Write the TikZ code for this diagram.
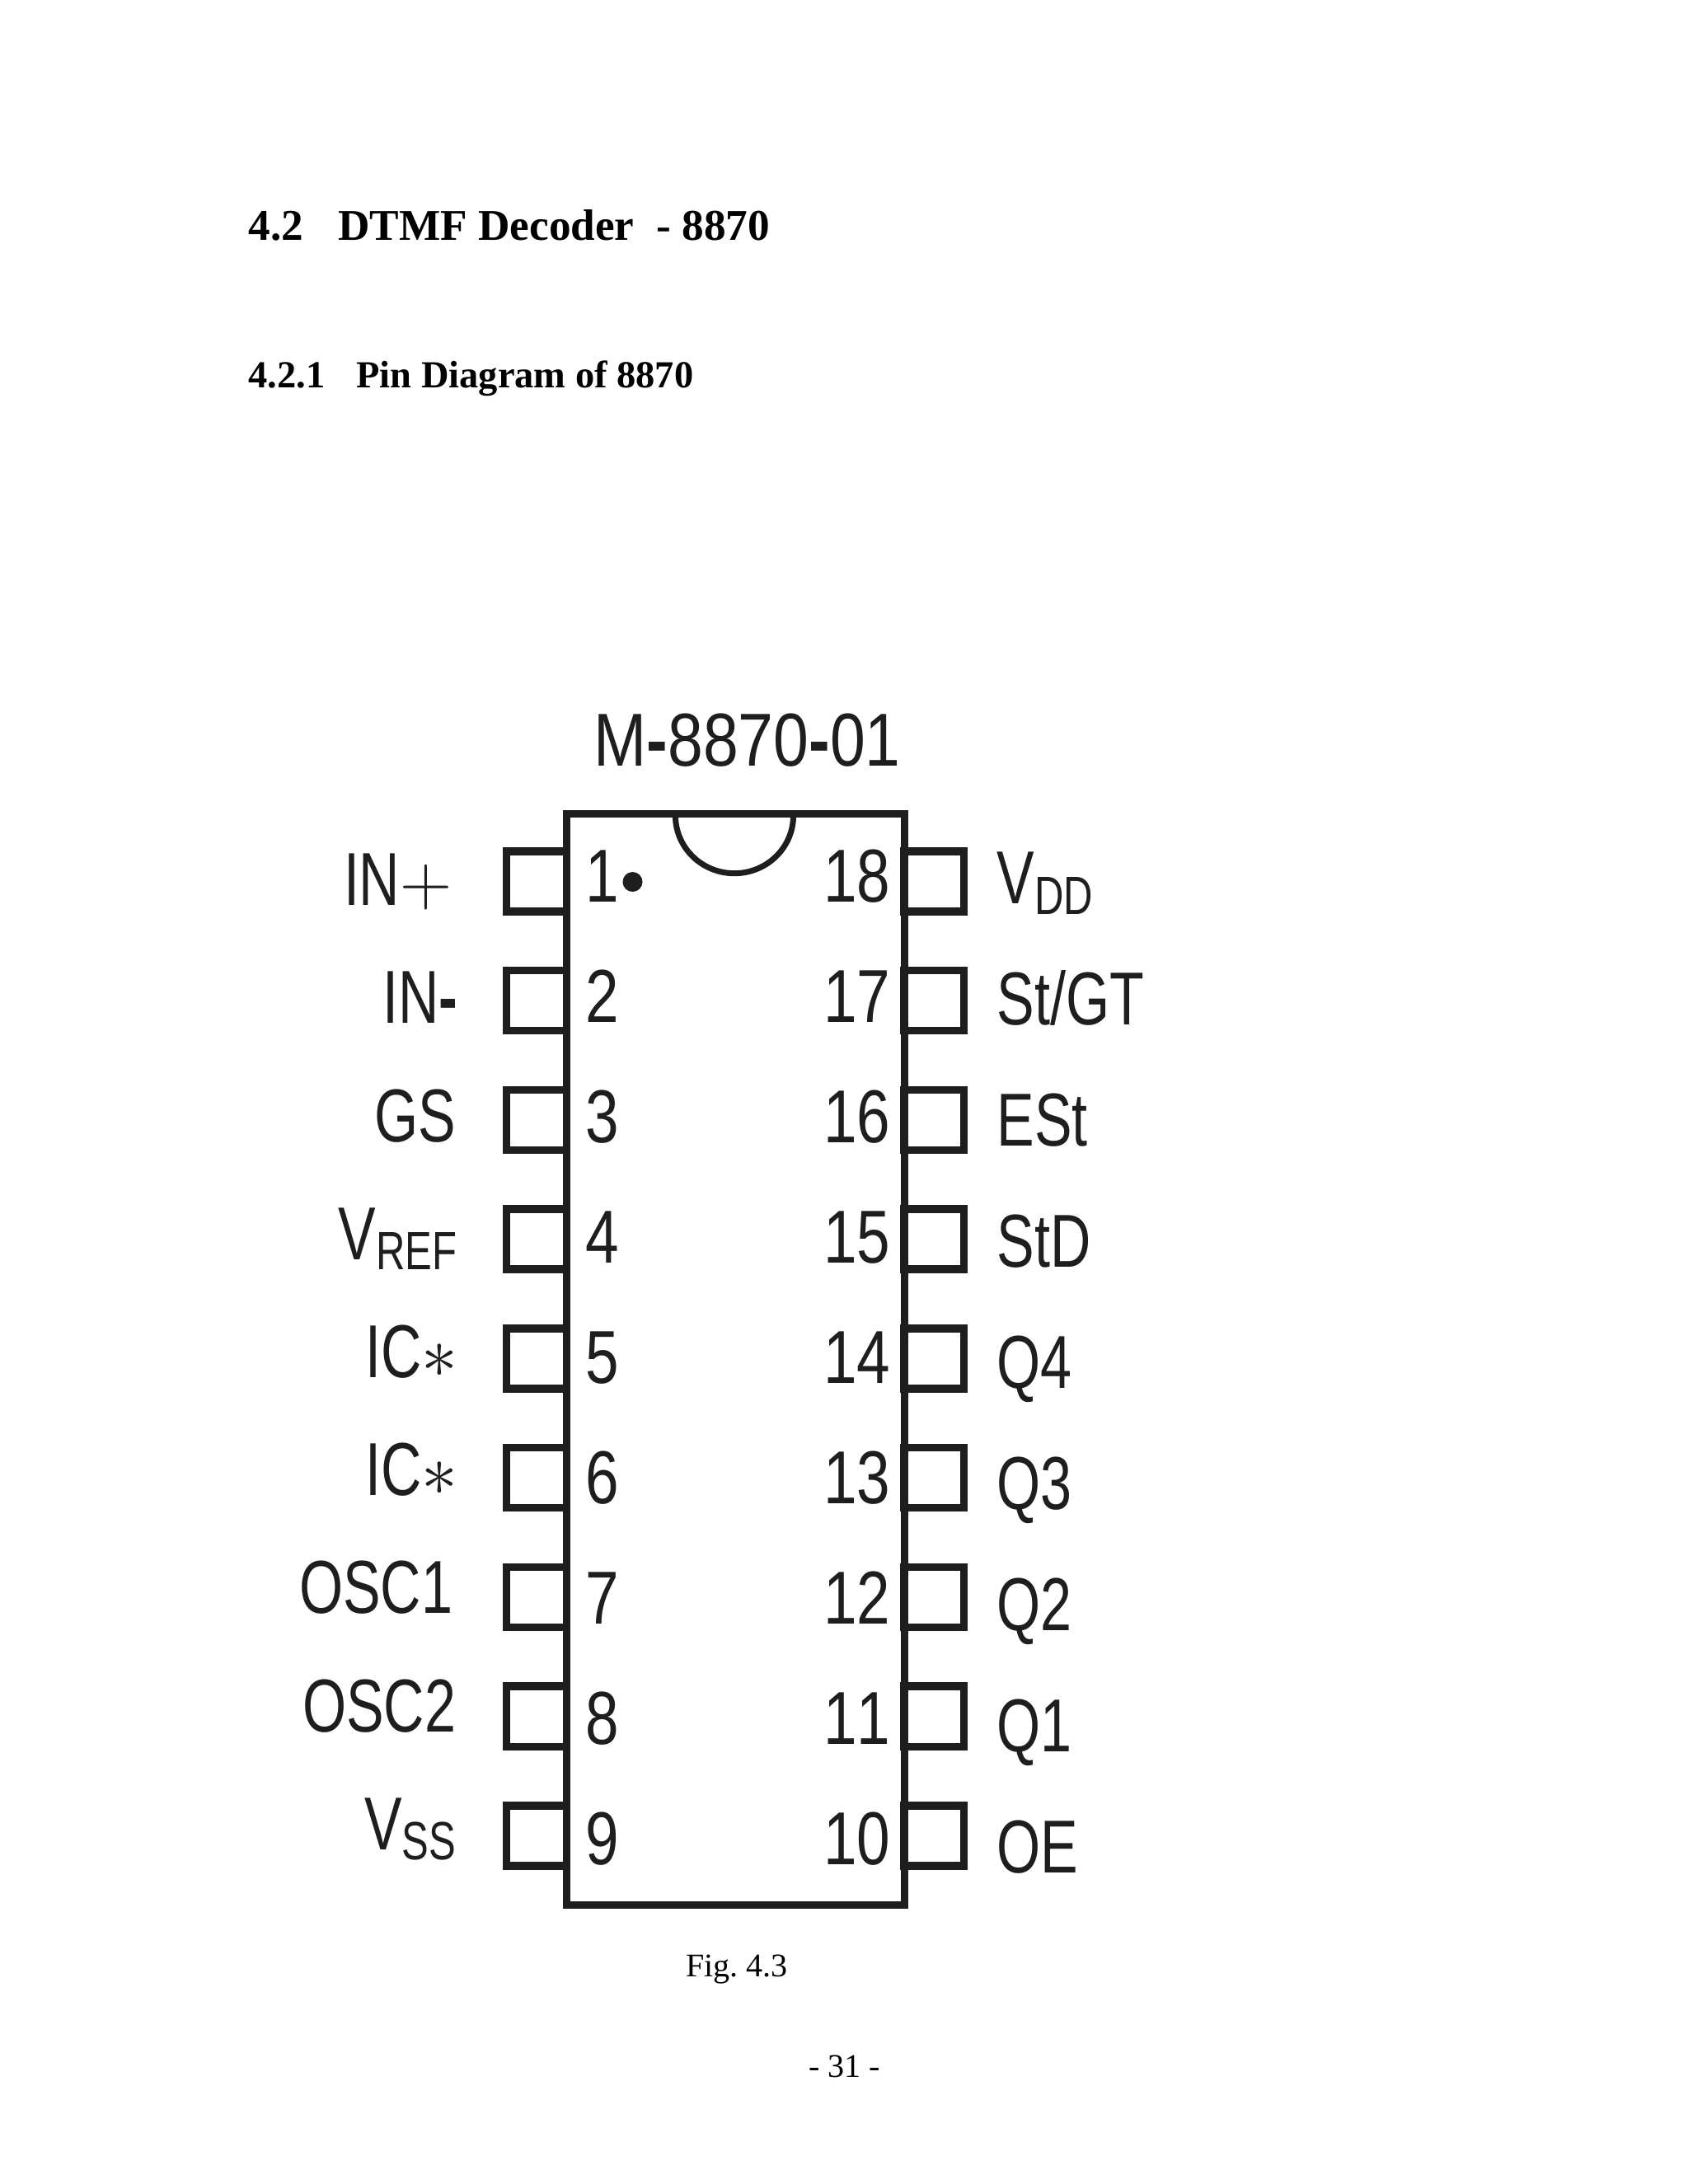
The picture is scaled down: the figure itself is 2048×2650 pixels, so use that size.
\documentclass[tikz,border=0pt]{standalone}
\usepackage{fontspec}
\usepackage{xcolor}
\usepackage{tikz}
\usetikzlibrary{positioning}
\setmainfont{Liberation Serif}
\newfontfamily\chipfont[FakeStretch=0.75]{Liberation Sans}
\newfontfamily\numfont[FakeStretch=0.8,Kerning=Off]{Liberation Sans}
\newfontfamily\partfont[FakeStretch=0.845,Kerning=Off]{Liberation Sans}
\definecolor{ink}{HTML}{1E1E1E}
\newcommand{\pinsub}[1]{\raisebox{-0.126cm}{\fontsize{18.6}{20}\selectfont #1}}
\frenchspacing

\begin{document}
\begin{tikzpicture}[
			x=0.01cm, y=-0.01cm,
			node distance=0.622cm,
			chip/.style={draw=ink, line width=0.095cm, inner sep=0pt, minimum width=4.095cm, minimum height=13.235cm},
			pin/.style={draw=ink, line width=0.095cm, inner sep=0pt, minimum width=0.725cm, minimum height=0.73cm},
			notch/.style={draw=ink, line width=0.07cm},
			dot/.style={circle, fill=ink, inner sep=0pt, minimum size=0.24cm},
			pinname/.style={inner sep=0pt, text=ink, font=\chipfont\fontsize{25.9}{30}\selectfont},
			numleft/.style={inner sep=0pt, text=ink, anchor=base west, font=\numfont\fontsize{25.9}{30}\selectfont},
			numright/.style={inner sep=0pt, text=ink, anchor=base east, font=\numfont\fontsize{25.9}{30}\selectfont},
			labelleft/.style={pinname, anchor=base east},
			labelright/.style={pinname, anchor=base west},
			partname/.style={inner sep=0pt, text=ink, anchor=base, font=\partfont\fontsize{25.9}{30}\selectfont},
			heading/.style={inner sep=0pt, anchor=base west, font=\bfseries\fontsize{15.14}{18}\selectfont},
			subheading/.style={inner sep=0pt, anchor=base west, font=\bfseries\fontsize{13.2}{16}\selectfont},
			caption/.style={inner sep=0pt, anchor=base, font=\fontsize{11.4}{14}\selectfont}
			]
			\useasboundingbox (0,0) rectangle (2048,2650);
			
			% Headings
			\node (title) [heading] at (301,291) {4.2\hspace{0.42cm}DTMF Decoder\hspace{0.27cm}- 8870};
			\node (subtitle) [subheading] at (301,470) {4.2.1\hspace{0.38cm}Pin Diagram of 8870};
			\node (part) [partname] at (906.6,929) {M\textbf{-}8870\textbf{-}01};
			
			% Package
			\node (pin_1) [pin] at (651,1069.25) {};
			\node (pin_2) [pin, below=of pin_1] {};
			\node (pin_3) [pin, below=of pin_2] {};
			\node (pin_4) [pin, below=of pin_3] {};
			\node (pin_5) [pin, below=of pin_4] {};
			\node (pin_6) [pin, below=of pin_5] {};
			\node (pin_7) [pin, below=of pin_6] {};
			\node (pin_8) [pin, below=of pin_7] {};
			\node (pin_9) [pin, below=of pin_8] {};
			\node (pin_18) [pin] at (1133,1069.25) {};
			\node (pin_17) [pin, below=of pin_18] {};
			\node (pin_16) [pin, below=of pin_17] {};
			\node (pin_15) [pin, below=of pin_16] {};
			\node (pin_14) [pin, below=of pin_15] {};
			\node (pin_13) [pin, below=of pin_14] {};
			\node (pin_12) [pin, below=of pin_13] {};
			\node (pin_11) [pin, below=of pin_12] {};
			\node (pin_10) [pin, below=of pin_11] {};
			\node (body) [chip] at (892.5,1649.5) {};
			\draw [notch] ([xshift=-0.73cm,yshift=-0.07cm]body.north) arc[start angle=180, end angle=360, x radius=0.715cm, y radius=0.7cm];
			\node (mark) [dot] at (767.5,1070) {};
			
			% Pin numbers
			\node (num_1) [numleft] at (710,1094) {1};
			\node (num_2) [numleft] at (710,1240) {2};
			\node (num_3) [numleft] at (710,1386) {3};
			\node (num_4) [numleft] at (710,1532) {4};
			\node (num_5) [numleft] at (710,1678) {5};
			\node (num_6) [numleft] at (710,1824) {6};
			\node (num_7) [numleft] at (710,1970) {7};
			\node (num_8) [numleft] at (710,2116) {8};
			\node (num_9) [numleft] at (710,2262) {9};
			\node (num_18) [numright] at (1081,1094) {18};
			\node (num_17) [numright] at (1081,1240) {17};
			\node (num_16) [numright] at (1081,1386) {16};
			\node (num_15) [numright] at (1081,1532) {15};
			\node (num_14) [numright] at (1081,1678) {14};
			\node (num_13) [numright] at (1081,1824) {13};
			\node (num_12) [numright] at (1081,1970) {12};
			\node (num_11) [numright] at (1081,2116) {11};
			\node (num_10) [numright] at (1081,2262) {10};
			
			% Pin names
			\node (in_plus) [labelleft] at (549,1098.6) {IN$+$};
			\node (in_minus) [labelleft] at (556,1241.8) {IN\textbf{-}};
			\node (gs) [labelleft] at (554,1385) {GS};
			\node (vref) [labelleft] at (555,1528.2) {V\pinsub{REF}};
			\node (ic_a) [labelleft] at (556,1671.4) {IC$*$};
			\node (ic_b) [labelleft] at (556,1814.6) {IC$*$};
			\node (osc1) [labelleft] at (550,1957.8) {OSC1};
			\node (osc2) [labelleft] at (554,2101) {OSC2};
			\node (vss) [labelleft] at (554,2244.2) {V\pinsub{SS}};
			\node (vdd) [labelright] at (1209,1096.7) {V\pinsub{DD}};
			\node (st_gt) [labelright] at (1209,1243.7) {St/GT};
			\node (est) [labelright] at (1209,1390.7) {ESt};
			\node (std) [labelright] at (1209,1537.7) {StD};
			\node (q4) [labelright] at (1209,1684.7) {Q4};
			\node (q3) [labelright] at (1209,1831.7) {Q3};
			\node (q2) [labelright] at (1209,1978.7) {Q2};
			\node (q1) [labelright] at (1209,2125.7) {Q1};
			\node (oe) [labelright] at (1209,2272.7) {OE};
			
			% Captions
			\node (fig) [caption] at (894,2398) {Fig. 4.3};
			\node (page) [caption] at (1024.5,2520.7) {- 31 -};
			
		\end{tikzpicture}
\end{document}
